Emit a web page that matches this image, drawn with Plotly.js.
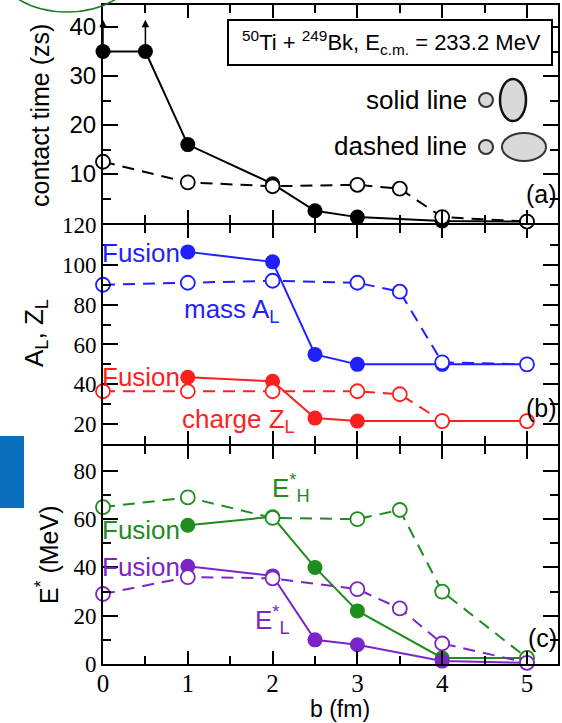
<!DOCTYPE html>
<html>
<head>
<meta charset="utf-8">
<script src="https://cdn.plot.ly/plotly-3.0.1.min.js"></script>
<style>html,body{margin:0;padding:0;background:#fff;}#chart{width:562px;height:723px;}</style>
</head>
<body>
<div id="chart"></div>
<script>
// ---- data ----
const bContactSolid = [0, 0.5, 1, 2, 2.5, 3, 4, 5];
const contactSolid  = [35, 35, 16, 8, 2.5, 1.2, 0.4, 0.3];
const bContactDashed = [0, 1, 2, 3, 3.5, 4, 5];
const contactDashed  = [12.5, 8.3, 7.5, 7.8, 7, 1.2, 0.3];

const bSolid  = [1, 2, 2.5, 3, 4, 5];
const bDashed = [0, 1, 2, 3, 3.5, 4, 5];

const massSolid    = [106.5, 101.5, 55, 50, 50, 50];
const massDashed   = [90, 91, 92, 91, 86.5, 51, 50];
const chargeSolid  = [43.5, 41.5, 23, 21.5, 21.5, 21.5];
const chargeDashed = [36.5, 36.5, 36.5, 36.5, 35, 21.5, 21.5];

const eHSolid  = [57.5, 61, 40, 22, 2.5, 2.5];
const eHDashed = [65, 69, 60.5, 60, 63.8, 30, 2.5];
const eLSolid  = [40.5, 36.5, 10, 8, 1.2, 0.5];
const eLDashed = [29, 36, 35.5, 31, 23, 8.5, 0.5];

const arrowB = [0, 0.5];
const arrowFrom = [35, 35];
const arrowTo = [41.5, 41.5];

const xTicks = [0, 1, 2, 3, 4, 5];

// ---- style ----
const W = 562, H = 723;
const BLACK = '#000000', BLUE = '#1f1fff', RED = '#ff1f1f', GREEN = '#1e8c1e', PURPLE = '#7a26c6';
const SANS = 'Liberation Sans, Arial, sans-serif';
const SERIF = 'Liberation Serif, Times New Roman, serif';
const px = v => v / W;
const py = v => 1 - v / H;

function solid(x, y, c, xa, ya) {
  return {x: x, y: y, xaxis: xa, yaxis: ya, type: 'scatter', mode: 'lines+markers',
    line: {color: c, width: 2}, marker: {color: c, size: 15, line: {width: 0}},
    cliponaxis: false, hoverinfo: 'skip'};
}
function dashed(x, y, c, xa, ya) {
  return {x: x, y: y, xaxis: xa, yaxis: ya, type: 'scatter', mode: 'lines+markers',
    line: {color: c, width: 2, dash: '12px,8px'},
    marker: {color: '#ffffff', size: 14, line: {color: c, width: 1.8}},
    cliponaxis: false, hoverinfo: 'skip'};
}

const traces = [
  solid(bContactSolid, contactSolid, BLACK, 'x3', 'y3'),
  dashed(bContactDashed, contactDashed, BLACK, 'x3', 'y3'),
  solid(bSolid, massSolid, BLUE, 'x2', 'y2'),
  solid(bSolid, chargeSolid, RED, 'x2', 'y2'),
  dashed(bDashed, massDashed, BLUE, 'x2', 'y2'),
  dashed(bDashed, chargeDashed, RED, 'x2', 'y2'),
  solid(bSolid, eHSolid, GREEN, 'x', 'y'),
  solid(bSolid, eLSolid, PURPLE, 'x', 'y'),
  dashed(bDashed, eHDashed, GREEN, 'x', 'y'),
  dashed(bDashed, eLDashed, PURPLE, 'x', 'y')
];

const xDom = [px(103), px(558)];
const XR = [0, 5.366];
function xaxis(anchor, labels) {
  return {domain: xDom, range: XR, anchor: anchor, showgrid: false, zeroline: false,
    showline: true, linecolor: '#000', linewidth: 2, mirror: 'allticks',
    ticks: 'inside', ticklen: 13, tickwidth: 2, tickcolor: '#000',
    tickvals: xTicks, ticktext: xTicks.map(String), showticklabels: labels,
    ticklabelstandoff: -4,
    tickfont: {family: SERIF, size: 25, color: '#000'},
    minor: {dtick: 0.5, tick0: 0, ticks: 'inside', ticklen: 8, tickwidth: 2, tickcolor: '#000'}};
}
function yaxis(anchor, dom, range, tv, mdt, fam, size) {
  return {domain: dom, range: range, anchor: anchor, showgrid: false, zeroline: false,
    showline: true, linecolor: '#000', linewidth: 2, mirror: 'allticks',
    ticks: 'inside', ticklen: 15, tickwidth: 2, tickcolor: '#000',
    tickvals: tv, ticktext: tv.map(String),
    tickfont: {family: fam, size: size, color: '#000'},
    minor: {dtick: mdt, ticks: 'inside', ticklen: 8, tickwidth: 2, tickcolor: '#000'}};
}

function txt(text, x, y, color, size, opts) {
  return Object.assign({text: text, x: px(x), y: py(y), xref: 'paper', yref: 'paper',
    showarrow: false, xanchor: 'left', yanchor: 'middle',
    font: {family: SANS, size: size, color: color}}, opts || {});
}

const annotations = [
  txt('<sup>50</sup>Ti + <sup>249</sup>Bk, E<sub>c.m.</sub> = 233.2 MeV', 391, 42, '#000', 22, {xanchor: 'center'}),
  txt('solid line', 469, 100, '#000', 26, {xanchor: 'right'}),
  txt('dashed line', 469, 146, '#000', 26, {xanchor: 'right'}),
  txt('(a)', 559, 194, '#000', 25, {xanchor: 'right'}),
  txt('(b)', 559, 408, '#000', 25, {xanchor: 'right'}),
  txt('(c)', 559, 638, '#000', 25, {xanchor: 'right'}),
  txt('Fusion', 100, 253, BLUE, 26),
  txt('mass A<sub>L</sub>', 182, 310, BLUE, 26),
  txt('Fusion', 100, 377, RED, 26),
  txt('charge Z<sub>L</sub>', 180, 420, RED, 26),
  txt('E<sup>*</sup><sub>H</sub>', 270, 488, GREEN, 26),
  txt('Fusion', 100, 530, GREEN, 26),
  txt('Fusion', 100, 567, PURPLE, 26),
  txt('E<sup>*</sup><sub>L</sub>', 253, 620, PURPLE, 26),
  txt('contact time (zs)', 40, 116, '#000', 25, {xanchor: 'center', textangle: -90}),
  txt('A<sub>L</sub>, Z<sub>L</sub>', 36, 333, '#000', 26, {xanchor: 'center', textangle: -90}),
  txt('E<sup>*</sup> (MeV)', 47, 555, '#000', 25, {xanchor: 'center', textangle: -90}),
  txt('b (fm)', 340, 709, '#000', 23, {xanchor: 'center'})
];
for (let i = 0; i < arrowB.length; i++) {
  annotations.push({x: arrowB[i], y: arrowTo[i], ax: arrowB[i], ay: arrowFrom[i],
    xref: 'x3', yref: 'y3', axref: 'x3', ayref: 'y3', text: '', showarrow: true,
    arrowhead: 2, arrowsize: 1, arrowwidth: 1.5, arrowcolor: '#000', standoff: 0, startstandoff: 0});
}

const shapes = [
  {type: 'rect', xref: 'paper', yref: 'paper', x0: px(228), x1: px(552), y0: py(65), y1: py(20),
    line: {color: '#000', width: 2}, fillcolor: '#ffffff', layer: 'above'},
  {type: 'circle', xref: 'paper', yref: 'paper', x0: px(479), x1: px(493), y0: py(107), y1: py(93),
    line: {color: '#333', width: 2}, fillcolor: '#d9d9d9'},
  {type: 'circle', xref: 'paper', yref: 'paper', x0: px(500), x1: px(526), y0: py(121), y1: py(79),
    line: {color: '#111', width: 2.5}, fillcolor: '#d9d9d9'},
  {type: 'circle', xref: 'paper', yref: 'paper', x0: px(479), x1: px(493), y0: py(154), y1: py(140),
    line: {color: '#333', width: 2}, fillcolor: '#d9d9d9'},
  {type: 'circle', xref: 'paper', yref: 'paper', x0: px(502), x1: px(546), y0: py(161), y1: py(133),
    line: {color: '#333', width: 2}, fillcolor: '#d9d9d9'},
  // screenshot artefacts
  {type: 'circle', xref: 'paper', yref: 'paper', x0: px(-8), x1: px(142), y0: py(12), y1: py(-95),
    line: {color: '#1f7a1f', width: 1.5}, fillcolor: 'rgba(0,0,0,0)'},
  {type: 'rect', xref: 'paper', yref: 'paper', x0: px(0), x1: px(24), y0: py(508), y1: py(436),
    line: {width: 0}, fillcolor: '#0a6ebf'}
];

const layout = {
  width: W, height: H, margin: {l: 0, r: 0, t: 0, b: 0},
  paper_bgcolor: '#fff', plot_bgcolor: '#fff', showlegend: false,
  xaxis: xaxis('y', true),
  xaxis2: xaxis('y2', false),
  xaxis3: xaxis('y3', false),
  yaxis: yaxis('x', [py(664), py(446)], [0, 90.3], [0, 20, 40, 60, 80], 10, SERIF, 23),
  yaxis2: yaxis('x2', [py(444), py(225)], [10, 120], [20, 40, 60, 80, 100, 120], 10, SERIF, 23),
  yaxis3: yaxis('x3', [py(223), py(5)], [0, 44.5], [10, 20, 30, 40], 5, SANS, 24),
  annotations: annotations, shapes: shapes
};

Plotly.newPlot('chart', traces, layout, {staticPlot: true, displayModeBar: false});
</script>
</body>
</html>
